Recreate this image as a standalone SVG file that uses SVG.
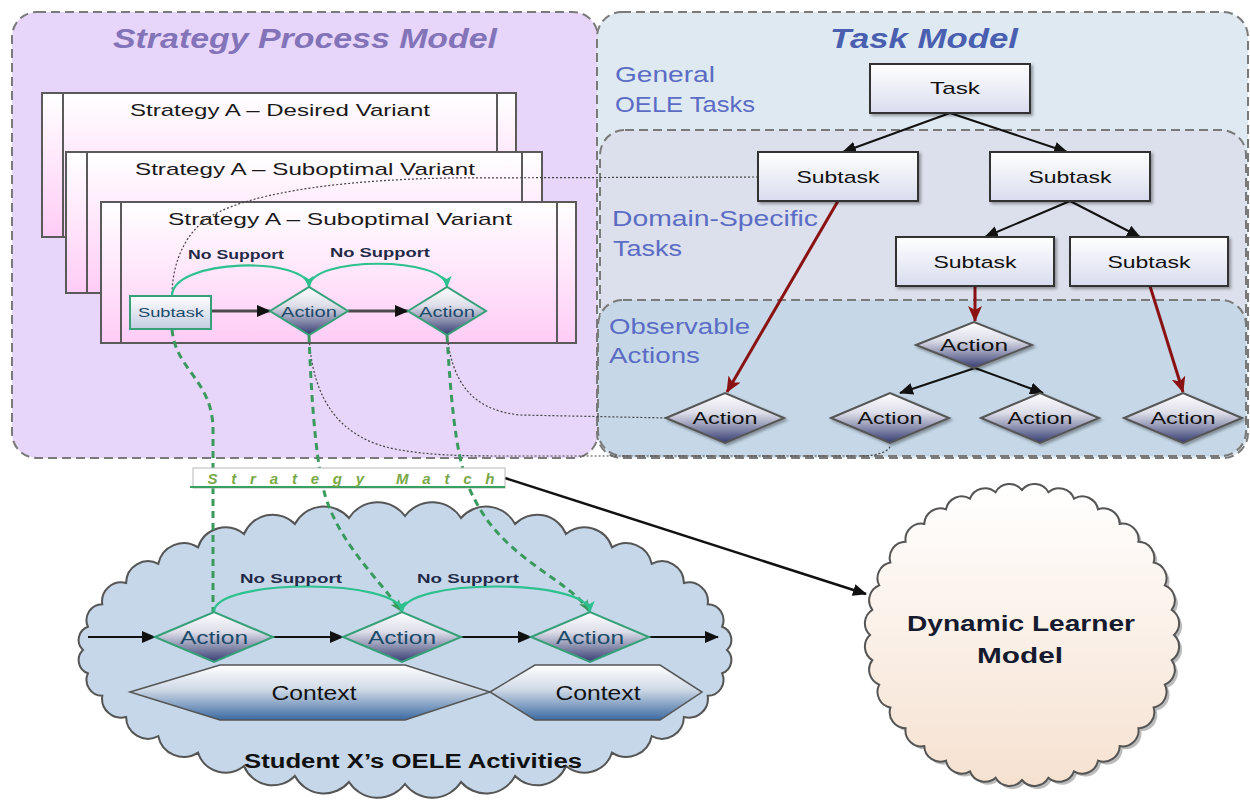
<svg xmlns="http://www.w3.org/2000/svg" width="1250" height="811" viewBox="0 0 1250 811">
<defs>
  <linearGradient id="gCard" x1="0" y1="0" x2="0" y2="1">
    <stop offset="0" stop-color="#ffffff"/>
    <stop offset="1" stop-color="#ffccf6"/>
  </linearGradient>
  <linearGradient id="gBox" x1="0" y1="0" x2="0" y2="1">
    <stop offset="0" stop-color="#ffffff"/>
    <stop offset="1" stop-color="#d9dcee"/>
  </linearGradient>
  <linearGradient id="gSub" x1="0" y1="0" x2="0" y2="1">
    <stop offset="0" stop-color="#ffffff"/>
    <stop offset="1" stop-color="#c3cce2"/>
  </linearGradient>
  <linearGradient id="gDia" x1="0" y1="0" x2="0" y2="1">
    <stop offset="0" stop-color="#ffffff"/>
    <stop offset="0.4" stop-color="#dcdde8"/>
    <stop offset="1" stop-color="#363d72"/>
  </linearGradient>
  <linearGradient id="gHex" x1="0" y1="0" x2="0" y2="1">
    <stop offset="0" stop-color="#ffffff"/>
    <stop offset="0.45" stop-color="#cfd9e6"/>
    <stop offset="1" stop-color="#3b6aa2"/>
  </linearGradient>
  <linearGradient id="gLearner" x1="0" y1="0" x2="0" y2="1">
    <stop offset="0" stop-color="#ffffff"/>
    <stop offset="1" stop-color="#f6e1d0"/>
  </linearGradient>
  <filter id="shadow" x="-10%" y="-10%" width="130%" height="140%">
    <feDropShadow dx="2" dy="2" stdDeviation="1.5" flood-color="#000" flood-opacity="0.35"/>
  </filter>
  <marker id="mBlack" markerUnits="userSpaceOnUse" markerWidth="14" markerHeight="12" refX="13" refY="6" orient="auto">
    <path d="M0,0 L14,6 L0,12 z" fill="#111"/>
  </marker>
  <marker id="mRed" markerUnits="userSpaceOnUse" markerWidth="16" markerHeight="14" refX="15" refY="7" orient="auto">
    <path d="M0,0 L16,7 L0,14 L4,7 z" fill="#8b1212"/>
  </marker>
  <marker id="mGreen" markerUnits="userSpaceOnUse" markerWidth="12" markerHeight="10" refX="11" refY="5" orient="auto">
    <path d="M0,0 L12,5 L0,10 L3,5 z" fill="#2cc18e"/>
  </marker>
  <marker id="mGreenD" markerUnits="userSpaceOnUse" markerWidth="12" markerHeight="10" refX="11" refY="5" orient="auto">
    <path d="M0,0 L12,5 L0,10 L3,5 z" fill="#3a9a5e"/>
  </marker>
  <style>
    text { font-family: "Liberation Sans", Arial, sans-serif; }
    .panel { stroke: #7a7a7a; stroke-width: 2; stroke-dasharray: 9 5; }
    .title { font-size: 28px; font-weight: bold; font-style: italic; text-anchor: middle; }
    .sec { font-size: 22px; fill: #5b6cc4; }
    .card { fill: url(#gCard); stroke: #5a5a5a; stroke-width: 2; }
    .strip { stroke: #5a5a5a; stroke-width: 2; }
    .ctitle { font-size: 17px; fill: #1a1a1a; text-anchor: middle; }
    .box { fill: url(#gBox); stroke: #333; stroke-width: 2; filter: url(#shadow); }
    .lbl { font-size: 17px; fill: #111; text-anchor: middle; }
    .dia { fill: url(#gDia); stroke: #555; stroke-width: 2; filter: url(#shadow); }
    .diaG { fill: url(#gDia); stroke: #36a078; stroke-width: 2; }
    .subG { fill: url(#gSub); stroke: #36a078; stroke-width: 2; }
    .glbl { fill: #1b4a6a; text-anchor: middle; }
    .nosup { font-size: 12px; font-weight: bold; fill: #1f2a48; text-anchor: middle; }
    .blk { fill: none; stroke: #111; stroke-width: 2; marker-end: url(#mBlack); }
    .red { fill: none; stroke: #8b1212; stroke-width: 3; marker-end: url(#mRed); }
    .garc { fill: none; stroke: #2cc18e; stroke-width: 2.2; marker-end: url(#mGreen); }
    .gdash { fill: none; stroke: #3a9a5e; stroke-width: 3; stroke-dasharray: 7 5; }
    .dot { fill: none; stroke: #444; stroke-width: 1.2; stroke-dasharray: 2 2; }
    .hex { fill: url(#gHex); stroke: #555; stroke-width: 1.5; }
  </style>
</defs>

<!-- Panels -->
<g id="strategy-process-model">
  <rect x="12" y="12" width="586" height="446" rx="25" class="panel" fill="#e7d6f9"/>
  <text x="305" y="48" class="title" fill="#8373b8" textLength="384" lengthAdjust="spacingAndGlyphs">Strategy Process Model</text>
</g>
<g id="task-model">
  <rect x="597" y="12" width="651" height="446" rx="25" class="panel" fill="#dfe9f2"/>
  <rect x="600" y="130" width="646" height="326" rx="25" class="panel" fill="#dcdfec"/>
  <rect x="598" y="300" width="648" height="156" rx="25" class="panel" fill="#c6d8e8"/>
  <text x="924" y="48" class="title" fill="#4a5fb0" textLength="188" lengthAdjust="spacingAndGlyphs">Task Model</text>
  <text x="615" y="82" class="sec" textLength="100" lengthAdjust="spacingAndGlyphs">General</text>
  <text x="615" y="112" class="sec" textLength="140" lengthAdjust="spacingAndGlyphs">OELE Tasks</text>
  <text x="612" y="226" class="sec" textLength="206" lengthAdjust="spacingAndGlyphs">Domain-Specific</text>
  <text x="613" y="256" class="sec" textLength="69" lengthAdjust="spacingAndGlyphs">Tasks</text>
  <text x="609" y="334" class="sec" textLength="141" lengthAdjust="spacingAndGlyphs">Observable</text>
  <text x="609" y="363" class="sec" textLength="91" lengthAdjust="spacingAndGlyphs">Actions</text>
</g>

<!-- Strategy cards -->
<g id="card-desired">
  <rect x="42" y="93" width="474" height="144" class="card"/>
  <line x1="63" y1="93" x2="63" y2="237" class="strip"/>
  <line x1="497" y1="93" x2="497" y2="237" class="strip"/>
  <text x="280" y="116" class="ctitle" textLength="300" lengthAdjust="spacingAndGlyphs">Strategy A – Desired Variant</text>
</g>
<g id="card-suboptimal-1">
  <rect x="66" y="152" width="476" height="141" class="card"/>
  <line x1="87" y1="152" x2="87" y2="293" class="strip"/>
  <line x1="522" y1="152" x2="522" y2="293" class="strip"/>
  <text x="305" y="175" class="ctitle" textLength="340" lengthAdjust="spacingAndGlyphs">Strategy A – Suboptimal Variant</text>
</g>
<g id="card-suboptimal-2">
  <rect x="101" y="202" width="475" height="141" class="card"/>
  <line x1="121" y1="202" x2="121" y2="343" class="strip"/>
  <line x1="557" y1="202" x2="557" y2="343" class="strip"/>
  <text x="340" y="225" class="ctitle" textLength="344" lengthAdjust="spacingAndGlyphs">Strategy A – Suboptimal Variant</text>
</g>

<!-- Bottom cloud -->
<g id="student-activities">
  <path fill="#c5d7e8" stroke="#555" stroke-width="2" d="M727,650 A14 14 0 0 1 722.1,673.3 A16 16 0 0 1 707.7,695.8 A19 19 0 0 1 683.9,717 A22 22 0 0 1 651.7,736.2 A26 26 0 0 1 612,752.6 A29 29 0 0 1 566,766 A31 31 0 0 1 515.1,776 A33 33 0 0 1 461,782 A34 34 0 0 1 405,784 A34 34 0 0 1 349,782 A33 33 0 0 1 294.9,776 A31 31 0 0 1 244,766 A29 29 0 0 1 198,752.6 A26 26 0 0 1 158.3,736.2 A22 22 0 0 1 126.1,717 A19 19 0 0 1 102.3,695.8 A16 16 0 0 1 87.9,673.3 A14 14 0 0 1 83,650 A14 14 0 0 1 87.9,626.7 A16 16 0 0 1 102.3,604.2 A19 19 0 0 1 126.1,583 A22 22 0 0 1 158.3,563.8 A26 26 0 0 1 198,547.4 A29 29 0 0 1 244,534 A31 31 0 0 1 294.9,524 A33 33 0 0 1 349,518 A34 34 0 0 1 405,516 A34 34 0 0 1 461,518 A33 33 0 0 1 515.1,524 A31 31 0 0 1 566,534 A29 29 0 0 1 612,547.4 A26 26 0 0 1 651.7,563.8 A22 22 0 0 1 683.9,583 A19 19 0 0 1 707.7,604.2 A16 16 0 0 1 722.1,626.7 A14 14 0 0 1 727,650 Z"/>
  <text x="413" y="768" font-size="20" font-weight="bold" fill="#111" text-anchor="middle" textLength="338" lengthAdjust="spacingAndGlyphs">Student X’s OELE Activities</text>
</g>

<!-- Dynamic learner model cloud -->
<g id="dynamic-learner-model">
  <path transform="translate(3,3)" fill="#777" opacity="0.5" d="M1174,635 A16 16 0 0 1 1171.7,660.2 A16 16 0 0 1 1164.8,684.6 A16 16 0 0 1 1153.6,707.5 A16 16 0 0 1 1138.4,728.2 A16 16 0 0 1 1119.7,746.1 A16 16 0 0 1 1098,760.6 A16 16 0 0 1 1074,771.3 A16 16 0 0 1 1048.4,777.8 A16 16 0 0 1 1022,780 A16 16 0 0 1 995.6,777.8 A16 16 0 0 1 970,771.3 A16 16 0 0 1 946,760.6 A16 16 0 0 1 924.3,746.1 A16 16 0 0 1 905.6,728.2 A16 16 0 0 1 890.4,707.5 A16 16 0 0 1 879.2,684.6 A16 16 0 0 1 872.3,660.2 A16 16 0 0 1 870,635 A16 16 0 0 1 872.3,609.8 A16 16 0 0 1 879.2,585.4 A16 16 0 0 1 890.4,562.5 A16 16 0 0 1 905.6,541.8 A16 16 0 0 1 924.3,523.9 A16 16 0 0 1 946,509.4 A16 16 0 0 1 970,498.7 A16 16 0 0 1 995.6,492.2 A16 16 0 0 1 1022,490 A16 16 0 0 1 1048.4,492.2 A16 16 0 0 1 1074,498.7 A16 16 0 0 1 1098,509.4 A16 16 0 0 1 1119.7,523.9 A16 16 0 0 1 1138.4,541.8 A16 16 0 0 1 1153.6,562.5 A16 16 0 0 1 1164.8,585.4 A16 16 0 0 1 1171.7,609.8 A16 16 0 0 1 1174,635 Z"/>
  <path fill="url(#gLearner)" stroke="#555" stroke-width="2" d="M1174,635 A16 16 0 0 1 1171.7,660.2 A16 16 0 0 1 1164.8,684.6 A16 16 0 0 1 1153.6,707.5 A16 16 0 0 1 1138.4,728.2 A16 16 0 0 1 1119.7,746.1 A16 16 0 0 1 1098,760.6 A16 16 0 0 1 1074,771.3 A16 16 0 0 1 1048.4,777.8 A16 16 0 0 1 1022,780 A16 16 0 0 1 995.6,777.8 A16 16 0 0 1 970,771.3 A16 16 0 0 1 946,760.6 A16 16 0 0 1 924.3,746.1 A16 16 0 0 1 905.6,728.2 A16 16 0 0 1 890.4,707.5 A16 16 0 0 1 879.2,684.6 A16 16 0 0 1 872.3,660.2 A16 16 0 0 1 870,635 A16 16 0 0 1 872.3,609.8 A16 16 0 0 1 879.2,585.4 A16 16 0 0 1 890.4,562.5 A16 16 0 0 1 905.6,541.8 A16 16 0 0 1 924.3,523.9 A16 16 0 0 1 946,509.4 A16 16 0 0 1 970,498.7 A16 16 0 0 1 995.6,492.2 A16 16 0 0 1 1022,490 A16 16 0 0 1 1048.4,492.2 A16 16 0 0 1 1074,498.7 A16 16 0 0 1 1098,509.4 A16 16 0 0 1 1119.7,523.9 A16 16 0 0 1 1138.4,541.8 A16 16 0 0 1 1153.6,562.5 A16 16 0 0 1 1164.8,585.4 A16 16 0 0 1 1171.7,609.8 A16 16 0 0 1 1174,635 Z"/>
  <text x="1021" y="631" font-size="22" font-weight="bold" fill="#151a2e" text-anchor="middle" textLength="228" lengthAdjust="spacingAndGlyphs">Dynamic Learner</text>
  <text x="1020" y="663" font-size="22" font-weight="bold" fill="#151a2e" text-anchor="middle" textLength="86" lengthAdjust="spacingAndGlyphs">Model</text>
</g>

<!-- Context hexagons -->
<g id="context-1">
  <polygon points="130,692 220,665 405,665 490,692 405,720 220,720" class="hex"/>
  <text x="314" y="700" font-size="20" fill="#111" text-anchor="middle" textLength="85" lengthAdjust="spacingAndGlyphs">Context</text>
</g>
<g id="context-2">
  <polygon points="490,692 535,665 660,665 702,692 660,720 535,720" class="hex"/>
  <text x="598" y="700" font-size="20" fill="#111" text-anchor="middle" textLength="85" lengthAdjust="spacingAndGlyphs">Context</text>
</g>

<!-- Connectors -->
<g id="connectors">
  <path class="dot" d="M758,177 L450,178 C330,180 240,195 205,220 C180,240 172,270 172,296"/>
  <path class="dot" d="M447,335 C452,380 470,410 520,415 L668,418"/>
  <path class="dot" d="M309,335 C312,400 340,440 400,450 C430,455 460,456 500,456 L860,456 C880,456 890,450 890,446"/>
  <path class="blk" d="M950,113 L843,152"/>
  <path class="blk" d="M950,113 L1067,152"/>
  <path class="blk" d="M1070,201 L985,237"/>
  <path class="blk" d="M1070,201 L1140,237"/>
  <path class="blk" d="M975,368 L900,393"/>
  <path class="blk" d="M975,368 L1043,393"/>
  <path class="red" d="M838,201 L727,392"/>
  <path class="red" d="M975,286 L975,321"/>
  <path class="red" d="M1150,286 L1183,392"/>
  <path d="M211,311 L270,311" fill="none" stroke="#4a4a4a" stroke-width="3" marker-end="url(#mBlack)"/>
  <path d="M348,311 L408,311" fill="none" stroke="#4a4a4a" stroke-width="3" marker-end="url(#mBlack)"/>
  <path class="garc" d="M172,296 C172,258 308,256 309,287"/>
  <path class="garc" d="M309,287 C310,256 446,256 447,287"/>
  <path class="gdash" d="M172,329 C175,370 213,380 213,430 L213,612"/>
  <path class="gdash" marker-end="url(#mGreenD)" d="M309,335 C312,420 318,470 325,495 C340,545 380,580 401,611"/>
  <path class="gdash" marker-end="url(#mGreenD)" d="M447,335 C452,420 458,470 475,500 C505,560 570,580 589,611"/>
  <path d="M505,478 L866,594" fill="none" stroke="#111" stroke-width="2.5" marker-end="url(#mBlack)"/>
  <path class="blk" d="M88,637 L155,637"/>
  <path class="blk" d="M273,637 L343,637"/>
  <path class="blk" d="M461,637 L531,637"/>
  <path class="blk" d="M649,637 L718,637"/>
  <path class="garc" d="M214,612 C214,578 401,578 402,612"/>
  <path class="garc" d="M402,612 C403,578 589,578 590,612"/>
</g>

<!-- Strategy Match label -->
<g id="strategy-match">
  <rect x="193" y="468" width="312" height="20" fill="#ffffff" stroke="#b8b8b8" stroke-width="1"/>
  <line x1="190" y1="487" x2="505" y2="487" stroke="#3aa060" stroke-width="2"/>
  <text x="351" y="484" font-size="15" font-weight="bold" font-style="italic" fill="#7aa848" text-anchor="middle" textLength="287" lengthAdjust="spacing">Strategy Match</text>
</g>

<!-- Task model nodes -->
<g id="task"><rect x="870" y="64" width="160" height="49" class="box"/><text x="955" y="94" class="lbl" textLength="50" lengthAdjust="spacingAndGlyphs">Task</text></g>
<g id="subtask-1"><rect x="758" y="152" width="160" height="49" class="box"/><text x="838" y="183" class="lbl" textLength="83" lengthAdjust="spacingAndGlyphs">Subtask</text></g>
<g id="subtask-2"><rect x="990" y="152" width="160" height="49" class="box"/><text x="1070" y="183" class="lbl" textLength="83" lengthAdjust="spacingAndGlyphs">Subtask</text></g>
<g id="subtask-3"><rect x="896" y="237" width="158" height="49" class="box"/><text x="975" y="268" class="lbl" textLength="83" lengthAdjust="spacingAndGlyphs">Subtask</text></g>
<g id="subtask-4"><rect x="1070" y="237" width="158" height="49" class="box"/><text x="1149" y="268" class="lbl" textLength="83" lengthAdjust="spacingAndGlyphs">Subtask</text></g>
<g id="action-mid"><polygon points="916,345 974,322 1032,345 974,368" class="dia"/><text x="974" y="351" class="lbl" textLength="68" lengthAdjust="spacingAndGlyphs">Action</text></g>
<g id="action-b1"><polygon points="666,418 725,393 784,418 725,443" class="dia"/><text x="725" y="424" class="lbl" textLength="65" lengthAdjust="spacingAndGlyphs">Action</text></g>
<g id="action-b2"><polygon points="831,418 890,393 949,418 890,443" class="dia"/><text x="890" y="424" class="lbl" textLength="65" lengthAdjust="spacingAndGlyphs">Action</text></g>
<g id="action-b3"><polygon points="981,418 1040,393 1099,418 1040,443" class="dia"/><text x="1040" y="424" class="lbl" textLength="65" lengthAdjust="spacingAndGlyphs">Action</text></g>
<g id="action-b4"><polygon points="1124,418 1183,393 1242,418 1183,443" class="dia"/><text x="1183" y="424" class="lbl" textLength="65" lengthAdjust="spacingAndGlyphs">Action</text></g>

<!-- Strategy card nodes -->
<g id="card-subtask"><rect x="130" y="296" width="81" height="33" class="subG"/><text x="171" y="317" class="glbl" font-size="13" textLength="66" lengthAdjust="spacingAndGlyphs">Subtask</text></g>
<g id="card-action-1"><polygon points="270,311 309,287 348,311 309,335" class="diaG"/><text x="309" y="317" class="glbl" font-size="15" textLength="56" lengthAdjust="spacingAndGlyphs">Action</text></g>
<g id="card-action-2"><polygon points="408,311 447,287 486,311 447,335" class="diaG"/><text x="447" y="317" class="glbl" font-size="15" textLength="56" lengthAdjust="spacingAndGlyphs">Action</text></g>
<text x="236" y="259" class="nosup" textLength="96" lengthAdjust="spacingAndGlyphs">No Support</text>
<text x="380" y="257" class="nosup" textLength="100" lengthAdjust="spacingAndGlyphs">No Support</text>

<!-- Activity nodes -->
<g id="activity-action-1"><polygon points="155,637 214,612 273,637 214,662" class="diaG"/><text x="214" y="644" class="glbl" font-size="18" textLength="68" lengthAdjust="spacingAndGlyphs">Action</text></g>
<g id="activity-action-2"><polygon points="343,637 402,612 461,637 402,662" class="diaG"/><text x="402" y="644" class="glbl" font-size="18" textLength="68" lengthAdjust="spacingAndGlyphs">Action</text></g>
<g id="activity-action-3"><polygon points="531,637 590,612 649,637 590,662" class="diaG"/><text x="590" y="644" class="glbl" font-size="18" textLength="68" lengthAdjust="spacingAndGlyphs">Action</text></g>
<text x="291" y="583" class="nosup" font-size="13" textLength="102" lengthAdjust="spacingAndGlyphs">No Support</text>
<text x="468" y="583" class="nosup" font-size="13" textLength="102" lengthAdjust="spacingAndGlyphs">No Support</text>
</svg>
